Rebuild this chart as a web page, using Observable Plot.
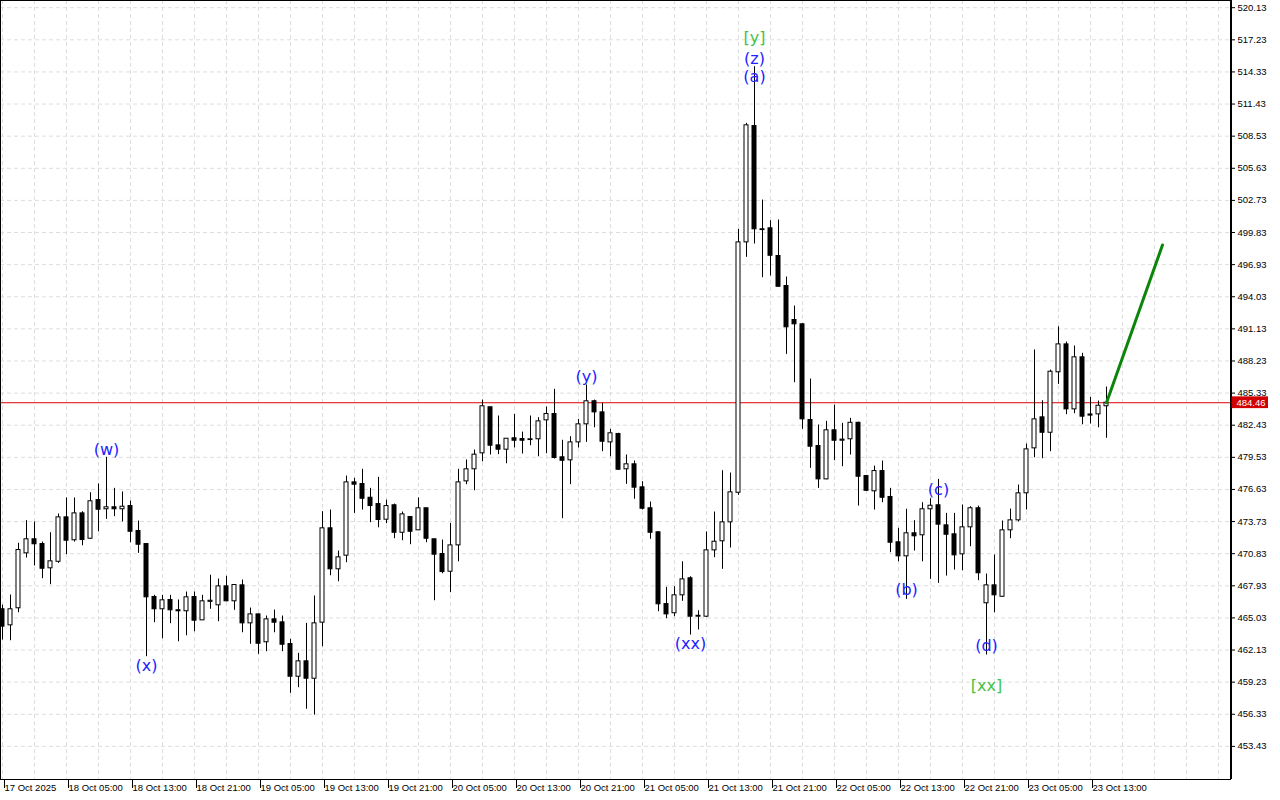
<!DOCTYPE html>
<html><head><meta charset="utf-8">
<script src="https://cdn.jsdelivr.net/npm/d3@7"></script>
<script src="https://cdn.jsdelivr.net/npm/@observablehq/plot@0.6"></script>
<style>
html,body{margin:0;padding:0;background:#fff;}
#chart{width:1280px;height:800px;overflow:hidden;}
</style></head><body><div id="chart"></div>
<script>
// Hourly candles, starting 17 Oct 2025 21:00
const opens = [465.81,464.36,465.90,470.86,472.13,471.70,469.51,470.10,474.11,472.04,
474.47,472.18,475.67,474.84,475.02,474.84,475.13,472.88,471.70,466.92,
465.81,466.65,465.72,465.63,466.92,464.81,466.48,466.17,467.88,466.53,
467.97,464.54,465.35,462.83,464.90,464.63,462.67,459.72,461.11,459.54,
464.60,473.12,469.42,470.65,477.27,477.12,475.88,475.31,473.90,475.20,
472.72,474.14,472.94,474.93,472.13,470.80,469.20,471.58,477.36,478.45,
479.89,484.05,480.61,480.22,481.25,481.18,481.09,481.16,482.87,483.44,
479.53,479.26,480.88,482.51,484.59,483.59,480.88,481.64,478.45,478.90,
476.82,474.93,472.76,466.28,465.45,467.07,468.61,465.14,465.14,471.13,
471.95,473.66,476.33,498.94,509.44,500.12,500.21,497.71,495.00,491.93,
491.54,482.90,480.55,477.54,481.97,481.03,481.16,482.65,477.84,476.46,
478.29,475.95,471.86,470.59,472.67,472.49,474.84,475.20,473.39,472.58,
470.77,473.21,474.93,466.35,467.97,466.94,472.94,473.84,476.28,480.34,
483.14,481.75,487.21,489.73,483.86,488.56,483.40,483.41,484.14];
const highs = [466.19,467.10,471.77,473.81,473.69,471.88,472.72,474.41,475.86,475.86,
474.62,476.33,477.12,479.53,476.73,476.40,475.58,473.78,471.70,467.07,
467.07,467.07,466.65,467.37,467.37,467.07,468.88,468.54,468.79,468.00,
468.45,465.92,465.35,465.20,465.74,465.20,463.10,461.83,464.54,467.01,
474.62,474.77,471.07,477.84,477.63,478.45,476.73,477.72,475.67,475.31,
474.59,474.14,475.86,474.93,472.13,472.06,473.57,478.45,479.29,480.19,
484.70,484.05,483.26,481.21,483.41,481.81,483.26,483.11,484.07,485.67,
481.07,481.39,482.96,486.06,484.70,484.41,482.06,481.70,479.74,479.20,
477.33,475.49,472.81,467.79,467.85,470.10,468.75,465.68,472.79,474.59,
478.32,478.11,500.12,509.69,514.80,502.76,500.89,500.96,495.81,493.19,
491.60,486.60,482.45,482.78,484.25,482.60,483.05,482.70,477.90,478.74,
479.20,476.73,473.12,474.84,473.81,475.43,475.79,477.54,474.47,474.47,
475.22,475.07,475.13,468.99,470.71,473.78,474.86,477.03,480.73,489.22,
484.64,487.41,491.32,489.94,489.58,488.92,484.95,484.61,485.88];
const lows = [463.03,462.97,465.50,470.44,469.72,468.57,468.03,469.96,470.74,471.88,
471.55,472.13,472.81,473.93,474.17,473.69,471.82,470.86,461.53,464.60,
463.15,464.51,462.88,463.42,463.78,464.81,465.81,464.69,466.49,465.72,
463.69,462.65,461.74,461.98,463.69,461.98,458.22,458.73,456.78,456.26,
462.43,468.84,468.30,470.01,474.47,474.77,473.63,473.17,473.54,472.18,
472.00,471.64,472.94,471.82,466.58,469.02,467.31,470.10,477.06,476.51,
479.13,479.74,479.77,478.95,480.37,479.83,480.58,479.58,479.86,479.38,
473.99,477.06,480.37,480.88,482.20,480.04,479.58,478.35,477.09,475.74,
474.77,472.13,465.59,464.96,465.14,466.53,463.49,463.94,465.08,470.47,
469.42,471.34,476.10,497.59,498.79,495.75,495.90,494.93,488.83,486.27,
482.06,478.54,476.73,477.50,479.22,478.68,479.74,475.13,476.45,474.77,
475.43,470.92,470.10,466.71,471.07,470.10,468.51,468.15,468.81,469.35,
469.29,471.46,468.39,461.68,465.50,466.90,472.18,473.69,474.77,479.49,
479.40,480.04,486.12,483.38,483.47,482.47,482.54,482.20,481.25];
const closes = [464.24,465.81,471.16,472.13,471.68,469.47,470.14,474.11,472.00,474.47,
472.06,475.56,474.80,475.02,474.84,475.07,472.81,471.64,466.89,465.81,
466.62,465.72,465.63,466.89,464.78,466.53,466.58,467.88,466.53,468.00,
464.54,465.35,462.70,464.90,464.60,462.61,459.72,461.11,459.54,464.54,
473.12,469.42,470.50,477.27,477.06,475.79,475.13,473.87,475.13,472.72,
474.38,472.81,474.93,472.18,470.74,469.17,471.58,477.27,478.45,479.77,
484.14,480.58,480.22,481.21,481.03,481.03,481.16,482.78,483.44,479.47,
479.22,480.88,482.51,484.59,483.59,480.94,481.70,478.41,478.90,476.79,
474.89,472.72,466.26,465.35,467.07,468.51,465.14,465.22,471.13,471.91,
473.66,476.37,498.94,509.51,500.12,500.05,497.73,494.93,491.27,491.54,
482.96,480.49,477.54,481.97,481.03,481.13,482.65,477.78,476.51,478.29,
475.88,471.82,470.59,472.67,472.40,474.84,475.16,473.45,472.54,470.68,
473.21,474.93,469.06,467.97,467.07,472.94,473.84,476.28,480.25,482.96,
481.75,487.26,489.73,483.86,488.56,483.20,483.30,484.19,484.46];

const xTickLabels = ["17 Oct 2025","18 Oct 05:00","18 Oct 13:00","18 Oct 21:00","19 Oct 05:00",
"19 Oct 13:00","19 Oct 21:00","20 Oct 05:00","20 Oct 13:00","20 Oct 21:00","21 Oct 05:00",
"21 Oct 13:00","21 Oct 21:00","22 Oct 05:00","22 Oct 13:00","22 Oct 21:00","23 Oct 05:00","23 Oct 13:00"];
const yTicks = [453.43,456.33,459.23,462.13,465.03,467.93,470.83,473.73,476.63,479.53,482.43,485.33,
488.23,491.13,494.03,496.93,499.83,502.73,505.63,508.53,511.43,514.33,517.23,520.13];
const lastPrice = 484.46;

const projIndex = [138, 145];
const projPrice = [484.46, 498.70];

const waveText  = ["(w)","(x)","(y)","(xx)","(z)","(a)","(b)","(c)","(d)"];
const waveIndex = [13, 18, 73, 86, 94, 94, 113, 117, 123];
const wavePrice = [480.19, 460.69, 486.78, 462.72, 515.54, 513.87, 467.55, 476.62, 462.49];
const majorText  = ["[y]", "[xx]"];
const majorIndex = [94, 123];
const majorPrice = [517.39, 458.88];

// ---- build
const candles = opens.map((o, i) => ({i, open: o, high: highs[i], low: lows[i], close: closes[i]}));
const up = candles.filter(d => d.close >= d.open);
const down = candles.filter(d => d.close < d.open);
const proj = projIndex.map((d, k) => ({i: d, p: projPrice[k]}));
const waves = waveText.map((t, k) => ({t, i: waveIndex[k], p: wavePrice[k]}));
const majors = majorText.map((t, k) => ({t, i: majorIndex[k], p: majorPrice[k]}));
const xTicks = xTickLabels.map((_, k) => k * 8);
const xDomain = [-0.25, 153.5];
const yDomain = [450.44, 520.78];
const gridX = d3.range(0, 154, 4);

const chart = Plot.plot({
  width: 1280, height: 800,
  marginLeft: 0, marginRight: 50, marginTop: 0, marginBottom: 21,
  x: {domain: xDomain, axis: null, label: null},
  y: {domain: yDomain, axis: null, label: null},
  style: {fontFamily: "'Liberation Sans', Arial, sans-serif", fontSize: "9.5px", background: "white", color: "black", overflow: "visible"},
  marks: [
    Plot.ruleY(yTicks, {stroke: "#dedede", strokeDasharray: "4,3"}),
    Plot.ruleX(gridX, {stroke: "#dedede", strokeDasharray: "4,3"}),
    Plot.ruleY([lastPrice], {stroke: "#e00000"}),
    Plot.ruleX(candles, {x: "i", y1: "low", y2: "high", stroke: "black"}),
    Plot.rect(up, {x1: d => d.i - 0.25, x2: d => d.i + 0.25, y1: "open", y2: "close", fill: "white", stroke: "black"}),
    Plot.rect(down, {x1: d => d.i - 0.25, x2: d => d.i + 0.25, y1: "open", y2: "close", fill: "black", stroke: "black"}),
    Plot.line(proj, {x: "i", y: "p", stroke: "#0b850b", strokeWidth: 3}),
    Plot.text(waves, {x: "i", y: "p", text: "t", fill: "#2222ff", fontSize: 16, fontFamily: "'DejaVu Sans', sans-serif"}),
    Plot.text(majors, {x: "i", y: "p", text: "t", fill: "#44c244", fontSize: 16, fontFamily: "'DejaVu Sans', sans-serif"}),
    Plot.frame({stroke: "black"}),
    Plot.ruleX([xDomain[1]], {stroke: "black", strokeWidth: 2, dx: 0.5}),
    Plot.axisY(yTicks, {anchor: "right", label: null, tickSize: 4, tickPadding: 3, tickFormat: d => d.toFixed(2)}),
    Plot.axisX(xTicks, {anchor: "bottom", label: null, tickSize: 9, tickPadding: -4, textAnchor: "start", dx: 2, tickFormat: d => xTickLabels[d / 8]}),
    Plot.rect([lastPrice], {x1: () => xDomain[1] + 0.2, x2: () => xDomain[1] + 4.75, y1: d => d - 0.53, y2: d => d + 0.53, fill: "#d00000"}),
    Plot.text([lastPrice], {x: () => xDomain[1], y: d => d, text: d => d.toFixed(2), dx: 6, textAnchor: "start", fill: "white"})
  ]
});
document.getElementById("chart").appendChild(chart);
</script>
</body></html>
